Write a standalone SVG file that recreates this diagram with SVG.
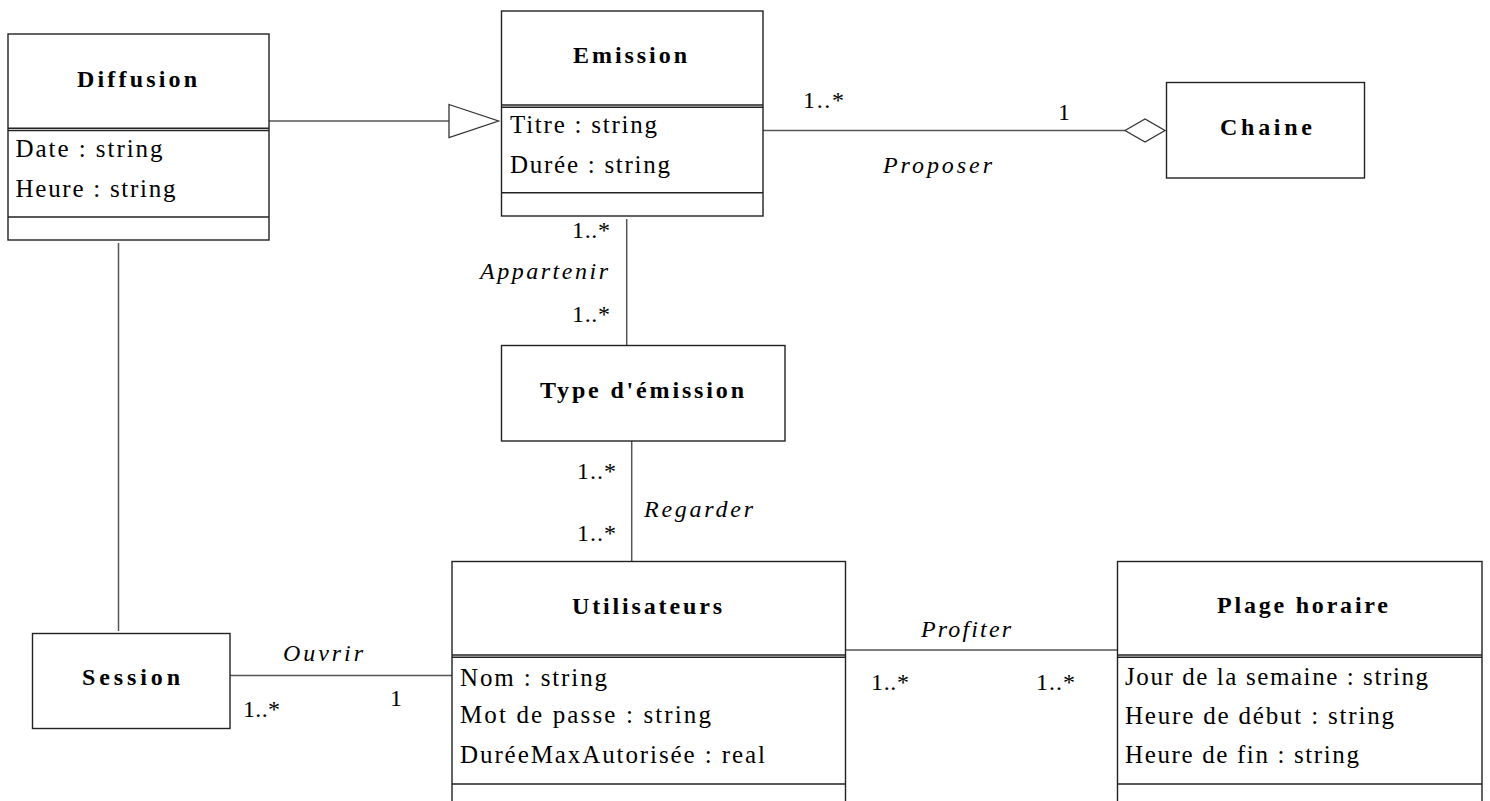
<svg xmlns="http://www.w3.org/2000/svg" width="1490" height="801" viewBox="0 0 1490 801">
<style>
text{font-family:"Liberation Serif",serif;fill:#000;}
.t{font-size:24px;font-weight:bold;}
.a{font-size:25px;}
.m{font-size:24px;}
.l{font-size:24px;font-style:italic;}
.box{fill:#fff;stroke:#222;stroke-width:1.4;}
.sep{stroke:#222;stroke-width:1.4;fill:none;}
.c{stroke:#555;stroke-width:1.5;fill:none;}
.head{fill:#fff;stroke:#333;stroke-width:1.3;}
</style>
<rect width="1490" height="801" fill="#fff"/>
<g id="connectors">
  <line class="c" x1="269" y1="121" x2="449" y2="121"/>
  <polygon class="head" points="449,104.5 498.5,121 449,137.5"/>
  <line class="c" x1="763" y1="130.5" x2="1125" y2="130.5"/>
  <polygon class="head" points="1125,130.5 1145,119 1165,130.5 1145,142"/>
  <line class="c" x1="626.7" y1="219" x2="626.7" y2="345.5"/>
  <line class="c" x1="631.7" y1="441" x2="631.7" y2="561.5"/>
  <line class="c" x1="118.5" y1="243" x2="118.5" y2="631"/>
  <line class="c" x1="230" y1="675.5" x2="452" y2="675.5"/>
  <line class="c" x1="845.5" y1="650" x2="1117.5" y2="650"/>
  <text class="m" x="803" y="108" textLength="41" lengthAdjust="spacing">1..*</text>
  <text class="m" x="1058" y="120">1</text>
  <text class="l" x="883" y="173" textLength="109" lengthAdjust="spacing">Proposer</text>
  <text class="m" x="572" y="238" textLength="38" lengthAdjust="spacing">1..*</text>
  <text class="l" x="480" y="279" textLength="128" lengthAdjust="spacing">Appartenir</text>
  <text class="m" x="572" y="322" textLength="38" lengthAdjust="spacing">1..*</text>
  <text class="m" x="577" y="479" textLength="39" lengthAdjust="spacing">1..*</text>
  <text class="l" x="644" y="517" textLength="109" lengthAdjust="spacing">Regarder</text>
  <text class="m" x="577" y="541" textLength="39" lengthAdjust="spacing">1..*</text>
  <text class="l" x="283" y="661" textLength="80" lengthAdjust="spacing">Ouvrir</text>
  <text class="m" x="243" y="717" textLength="37" lengthAdjust="spacing">1..*</text>
  <text class="m" x="390" y="706">1</text>
  <text class="l" x="921" y="637" textLength="90" lengthAdjust="spacing">Profiter</text>
  <text class="m" x="871" y="690" textLength="38" lengthAdjust="spacing">1..*</text>
  <text class="m" x="1036" y="690" textLength="39" lengthAdjust="spacing">1..*</text>
</g>
<g id="diffusion">
  <rect class="box" x="8" y="34" width="261" height="206"/>
  <line class="sep" x1="8" y1="128.3" x2="269" y2="128.3"/>
  <line class="sep" x1="8" y1="130.5" x2="269" y2="130.5"/>
  <line class="sep" x1="8" y1="217" x2="269" y2="217"/>
  <text class="t" x="77" y="87" textLength="120" lengthAdjust="spacing">Diffusion</text>
  <text class="a" x="15.5" y="157" textLength="147" lengthAdjust="spacing">Date : string</text>
  <text class="a" x="15.5" y="197" textLength="160" lengthAdjust="spacing">Heure : string</text>
</g>
<g id="emission">
  <rect class="box" x="501.5" y="11" width="261.5" height="205"/>
  <line class="sep" x1="501.5" y1="105" x2="763" y2="105"/>
  <line class="sep" x1="501.5" y1="107.2" x2="763" y2="107.2"/>
  <line class="sep" x1="501.5" y1="192.7" x2="763" y2="192.7"/>
  <text class="t" x="573" y="63" textLength="114" lengthAdjust="spacing">Emission</text>
  <text class="a" x="510" y="133" textLength="147" lengthAdjust="spacing">Titre : string</text>
  <text class="a" x="510" y="173" textLength="160" lengthAdjust="spacing">Durée : string</text>
</g>
<g id="chaine">
  <rect class="box" x="1166.5" y="82.5" width="198" height="95.5"/>
  <text class="t" x="1220" y="135" textLength="92" lengthAdjust="spacing">Chaine</text>
</g>
<g id="type-emission">
  <rect class="box" x="501.5" y="345.5" width="283.5" height="95.5"/>
  <text class="t" x="540" y="398" textLength="204" lengthAdjust="spacing">Type d'émission</text>
</g>
<g id="session">
  <rect class="box" x="32.5" y="633.5" width="197.5" height="95"/>
  <text class="t" x="82" y="685" textLength="98" lengthAdjust="spacing">Session</text>
</g>
<g id="utilisateurs">
  <rect class="box" x="452" y="561.5" width="393.5" height="260"/>
  <line class="sep" x1="452" y1="655" x2="845.5" y2="655"/>
  <line class="sep" x1="452" y1="657.2" x2="845.5" y2="657.2"/>
  <line class="sep" x1="452" y1="784" x2="845.5" y2="784"/>
  <text class="t" x="572" y="614" textLength="150" lengthAdjust="spacing">Utilisateurs</text>
  <text class="a" x="460" y="686" textLength="147" lengthAdjust="spacing">Nom : string</text>
  <text class="a" x="460" y="723" textLength="251" lengthAdjust="spacing">Mot de passe : string</text>
  <text class="a" x="460" y="763" textLength="305" lengthAdjust="spacing">DuréeMaxAutorisée : real</text>
</g>
<g id="plage-horaire">
  <rect class="box" x="1117.5" y="561.5" width="364.5" height="260"/>
  <line class="sep" x1="1117.5" y1="655" x2="1482" y2="655"/>
  <line class="sep" x1="1117.5" y1="657.2" x2="1482" y2="657.2"/>
  <line class="sep" x1="1117.5" y1="784" x2="1482" y2="784"/>
  <text class="t" x="1217" y="613" textLength="171" lengthAdjust="spacing">Plage horaire</text>
  <text class="a" x="1125" y="685" textLength="303" lengthAdjust="spacing">Jour de la semaine : string</text>
  <text class="a" x="1125" y="724" textLength="269" lengthAdjust="spacing">Heure de début : string</text>
  <text class="a" x="1125" y="763" textLength="234" lengthAdjust="spacing">Heure de fin : string</text>
</g>
</svg>
